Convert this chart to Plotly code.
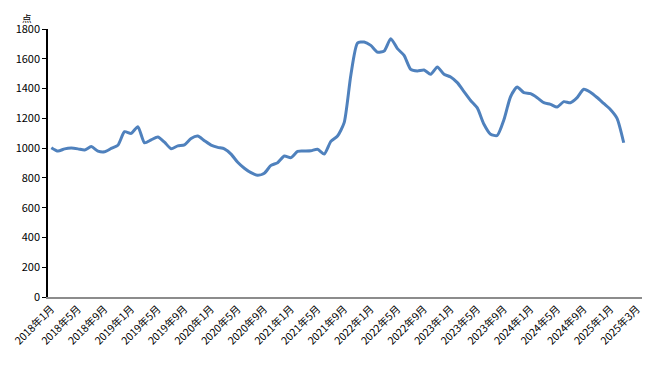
import plotly.graph_objects as go

values = [1003, 980, 995, 1000, 995, 987, 1010, 980, 975, 998,
          1019, 1110, 1099, 1144, 1036, 1055, 1075, 1040, 996, 1015,
          1022, 1065, 1081, 1050, 1020, 1005, 995, 960, 905, 865,
          835, 817, 831, 884, 902, 947, 936, 978, 980, 982,
          992, 960, 1045, 1081, 1171, 1490, 1705, 1713, 1690, 1645,
          1652, 1735, 1668, 1623, 1529, 1518, 1524, 1496, 1545, 1496,
          1478, 1440, 1380, 1320, 1270, 1160, 1093, 1085, 1190, 1345,
          1410, 1372, 1366, 1339, 1305, 1294, 1276, 1312, 1305, 1339,
          1395, 1375, 1340, 1300, 1260, 1200, 1036]

tick_labels = ["2018年1月", "2018年5月", "2018年9月", "2019年1月", "2019年5月", "2019年9月",
               "2020年1月", "2020年5月", "2020年9月", "2021年1月", "2021年5月", "2021年9月",
               "2022年1月", "2022年5月", "2022年9月", "2023年1月", "2023年5月", "2023年9月",
               "2024年1月", "2024年5月", "2024年9月", "2025年1月", "2025年3月"]
n_categories = 90
label_step = 4

y_ticks = list(range(0, 1801, 200))
unit = "点"

x = list(range(len(values)))
tick_pos = [i * label_step for i in range(len(tick_labels))]

fig = go.Figure()
fig.add_trace(go.Scatter(
    x=x, y=values, mode="lines",
    line=dict(color="#4F81BD", width=3, shape="spline", smoothing=0.6),
    hoverinfo="skip", showlegend=False,
))

font_family = "Noto Sans CJK SC, Noto Sans, sans-serif"

# page body has an 8px default margin; size the figure to fit the window
fig.update_layout(
    width=642, height=357,
    margin=dict(l=40, r=3, t=21, b=68, autoexpand=False),
    paper_bgcolor="white", plot_bgcolor="white",
    font=dict(family=font_family, size=11, color="#000000"),
    showlegend=False,
)
fig.update_xaxes(
    range=[-0.5, n_categories - 0.5],
    tickmode="array", tickvals=tick_pos, ticktext=tick_labels,
    tickangle=-45, tickfont=dict(size=10.5),
    showgrid=False, zeroline=False,
    showline=True, linecolor="#8C8C8C", linewidth=1.5,
    ticks="", fixedrange=True, automargin=False,
)
fig.update_yaxes(
    range=[0, 1800],
    tickmode="array", tickvals=y_ticks,
    tickfont=dict(size=11),
    showgrid=False, zeroline=False,
    showline=True, linecolor="#000000", linewidth=1.5,
    ticks="outside", ticklen=4, tickcolor="#000000", tickwidth=1,
    fixedrange=True, automargin=False,
)
fig.add_annotation(
    text=unit, xref="paper", yref="paper", x=-0.035, y=1.0,
    xanchor="center", yanchor="top", yshift=19, showarrow=False,
    font=dict(size=9.5, family=font_family), borderpad=0,
)

fig.write_html("out.html")
